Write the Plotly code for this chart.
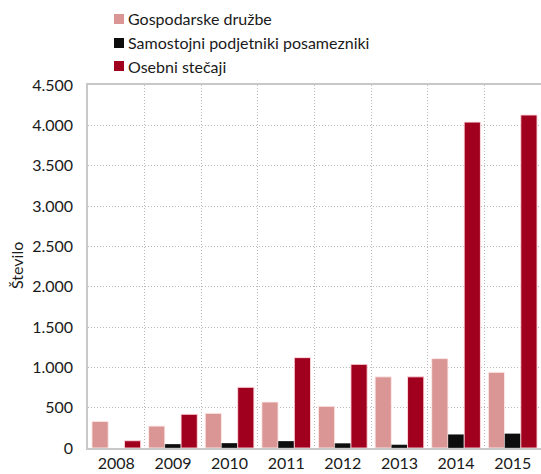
import plotly.graph_objects as go

years = ["2008", "2009", "2010", "2011", "2012", "2013", "2014", "2015"]
gospodarske = [330, 272, 430, 570, 517, 882, 1108, 938]
samostojni = [0, 50, 62, 87, 60, 42, 170, 180]
osebni = [90, 418, 752, 1120, 1037, 882, 4040, 4128]

series = [
    ("Gospodarske družbe", gospodarske, "#D99694", "rgba(255,235,235,0.9)"),
    ("Samostojni podjetniki posamezniki", samostojni, "#0D0D0D", "rgba(255,255,255,0.3)"),
    ("Osebni stečaji", osebni, "#A0001E", "rgba(255,220,225,0.9)"),
]

FONT = "Lato"
TEXT = "#1a1a1a"
GRID = "#B8B8B8"
W, H = 541, 474
ML, MR, MT, MB = 88, 0, 85, 26
PW, PH = W - ML - MR, H - MT - MB


def px_to_paper(px, py):
    return (px - ML) / PW, (H - MB - py) / PH


fig = go.Figure()
for name, vals, color, edge in series:
    fig.add_trace(go.Bar(
        x=years, y=vals, name=name,
        marker=dict(color=color, line=dict(color=edge, width=1)),
        showlegend=False,
    ))

# legend drawn as swatches + labels above the plot area
rows_y = [19, 43, 66]
for (name, _, color, _), ry in zip(series, rows_y):
    x0, y0 = px_to_paper(114, ry + 5)
    x1, y1 = px_to_paper(124, ry - 5)
    fig.add_shape(type="rect", xref="paper", yref="paper",
                  x0=x0, x1=x1, y0=y0, y1=y1,
                  fillcolor=color, line=dict(width=0))
    tx, ty = px_to_paper(126, ry)
    fig.add_annotation(text=name, xref="paper", yref="paper",
                       x=tx, y=ty, xanchor="left", yanchor="middle",
                       showarrow=False,
                       font=dict(family=FONT, size=16, color=TEXT))

fig.update_layout(
    width=W, height=H,
    margin=dict(l=ML, r=MR, t=MT, b=MB),
    paper_bgcolor="white", plot_bgcolor="white",
    barmode="group", bargap=0.14, bargroupgap=0,
    separators=",.",
    font=dict(family=FONT, size=16, color=TEXT),
    showlegend=False,
)

fig.update_xaxes(
    type="category", tickson="boundaries",
    showgrid=True, gridcolor=GRID, griddash="1px,2px", gridwidth=1,
    showline=True, linecolor="#C8C8C8", linewidth=1.5, mirror=True,
    ticks="", tickfont=dict(family=FONT, size=16, color=TEXT),
)
fig.update_yaxes(
    range=[0, 4500], tickvals=[0, 500, 1000, 1500, 2000, 2500, 3000, 3500, 4000, 4500],
    tickformat=",d",
    showgrid=True, gridcolor=GRID, griddash="1px,2px", gridwidth=1,
    showline=True, linecolor="#C8C8C8", linewidth=1.5,
    zeroline=False, ticks="", ticklabelstandoff=10,
    tickfont=dict(family=FONT, size=16, color=TEXT),
)

ax, ay = px_to_paper(16, 266)
fig.add_annotation(
    text="Število", xref="paper", yref="paper",
    x=ax, y=ay, xanchor="center", yanchor="middle",
    textangle=-90, showarrow=False,
    font=dict(family=FONT, size=16, color=TEXT),
)

fig.write_html("out.html")
